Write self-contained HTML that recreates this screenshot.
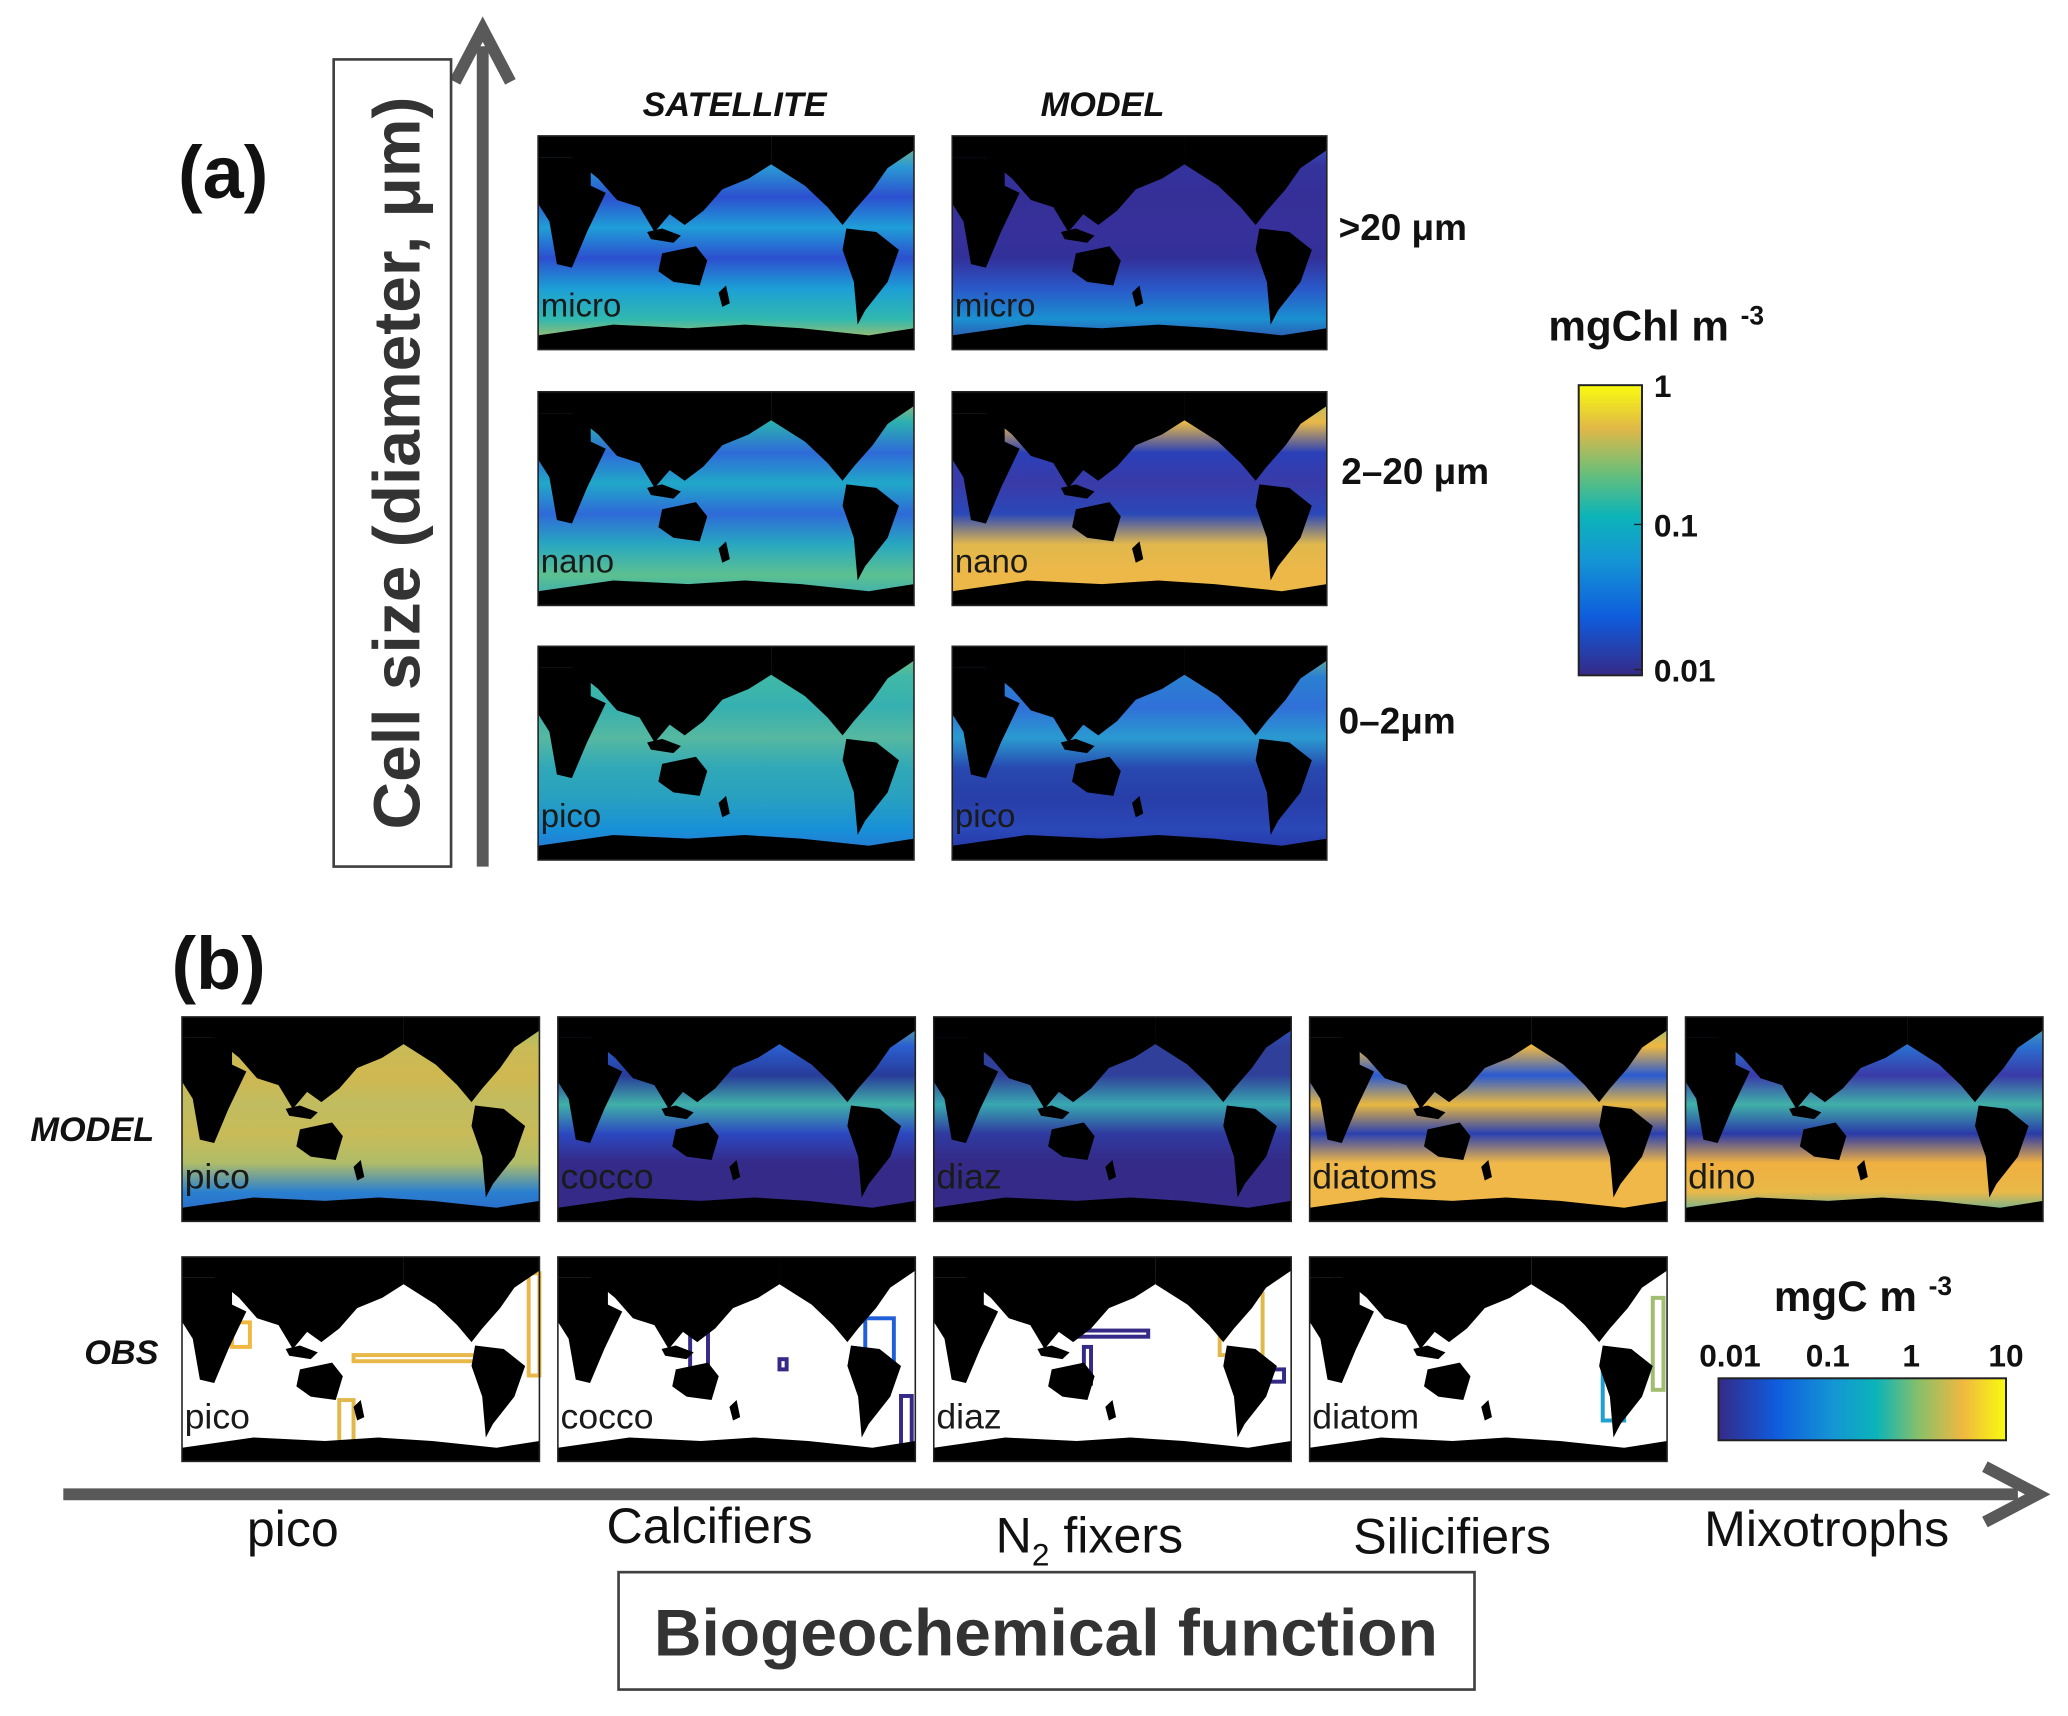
<!DOCTYPE html>
<html><head><meta charset="utf-8">
<style>
html,body{margin:0;padding:0;background:#fff;}
svg{display:block;font-family:"Liberation Sans","DejaVu Sans",sans-serif;}
</style></head>
<body>
<svg id="fig" width="2068" height="1716" viewBox="0 0 1568 1301" xmlns="http://www.w3.org/2000/svg">
<defs>
  <symbol id="land" viewBox="0 0 100 60" preserveAspectRatio="none">
    <polygon points="0,0 62,0 62,8 56,12 49,15 44,21 39,25 35,22 31,27 27,20 21,18 16,12 9,6 0,6" fill="#000"/>
    <polygon points="0,6 9,6 14,9 14,14 18,16 13,27 9,37 5,36 3,24 0,19" fill="#000"/>
    <polygon points="33,33 42,31 45,35 43,42 36,41 32,38" fill="#000"/>
    <polygon points="29,27 33,26 38,28 36,30 30,29" fill="#000"/>
    <polygon points="62,0 100,0 100,4 93,9 89,15 84,21 81,25 77,20 71,14 62,8" fill="#000"/>
    <polygon points="82,26 90,27 96,32 93,41 87,49 85,53 84,41 81,32" fill="#000"/>
    <polygon points="0,56 20,53 40,54 55,53 70,54 88,56 100,54 100,60 0,60" fill="#000"/>
    <polygon points="48,44 50,42 51,47 49,48" fill="#000"/>
  </symbol>
  <linearGradient id="cbA" x1="0" y1="1" x2="0" y2="0">
    <stop offset="0" stop-color="#352a87"/><stop offset="0.2" stop-color="#0f5cdd"/>
    <stop offset="0.4" stop-color="#1496d4"/><stop offset="0.55" stop-color="#0cb4b8"/>
    <stop offset="0.7" stop-color="#6cbf78"/><stop offset="0.85" stop-color="#e0b848"/>
    <stop offset="1" stop-color="#f9fb0e"/>
  </linearGradient>
  <linearGradient id="cbB" x1="0" y1="0" x2="1" y2="0">
    <stop offset="0" stop-color="#352a87"/><stop offset="0.2" stop-color="#0f5cdd"/>
    <stop offset="0.4" stop-color="#1496d4"/><stop offset="0.55" stop-color="#0cb4b8"/>
    <stop offset="0.7" stop-color="#8cbf68"/><stop offset="0.85" stop-color="#f0b840"/>
    <stop offset="1" stop-color="#f9fb0e"/>
  </linearGradient>
  <marker id="ah" markerWidth="6" markerHeight="6" refX="3" refY="3" orient="auto"></marker>
</defs>

<!-- panel a decorations -->
<g>
  <line x1="366" y1="657" x2="366" y2="35" stroke="#595959" stroke-width="9"/>
  <polyline points="345,62 366,22 387,62" fill="none" stroke="#595959" stroke-width="9" stroke-linejoin="miter"/>
</g>
<rect x="253" y="45" width="89" height="612" fill="#fff" stroke="#404040" stroke-width="2"/>
<text transform="translate(318,351) rotate(-90)" text-anchor="middle" font-size="50" font-weight="bold" fill="#333">Cell size (diameter, μm)</text>
<text x="135" y="150" font-size="56" font-weight="bold" fill="#111">(a)</text>
<text x="557" y="88" text-anchor="middle" font-size="26" font-weight="bold" font-style="italic" fill="#111">SATELLITE</text>
<text x="836" y="88" text-anchor="middle" font-size="26" font-weight="bold" font-style="italic" fill="#111">MODEL</text>
<text x="1015" y="182" font-size="28" font-weight="bold" fill="#111">&gt;20 μm</text>
<text x="1017" y="367" font-size="28" font-weight="bold" fill="#111">2–20 μm</text>
<text x="1015" y="556" font-size="28" font-weight="bold" fill="#111">0–2μm</text>

<!-- colorbar a -->
<text x="1174" y="258" font-size="32" font-weight="bold" fill="#111">mgChl m <tspan font-size="20" dy="-12">-3</tspan></text>
<rect x="1197" y="292" width="48" height="220" fill="url(#cbA)" stroke="#222" stroke-width="1.5"/>
<g id="cbAticks"></g>

<!-- panel b decorations -->
<text x="130" y="750" font-size="56" font-weight="bold" fill="#111">(b)</text>
<text x="70" y="865" text-anchor="middle" font-size="26" font-weight="bold" font-style="italic" fill="#111">MODEL</text>
<text x="92" y="1034" text-anchor="middle" font-size="26" font-weight="bold" font-style="italic" fill="#111">OBS</text>
<text x="1345" y="994" font-size="32" font-weight="bold" fill="#111">mgC m <tspan font-size="20" dy="-12">-3</tspan></text>
<rect x="1303" y="1045" width="218" height="47" fill="url(#cbB)" stroke="#222" stroke-width="1.5"/>
<g id="cbBticks"></g>

<g id="maps"></g>

<g>
  <line x1="48" y1="1133" x2="1530" y2="1133" stroke="#595959" stroke-width="9"/>
  <polyline points="1505,1112 1545,1133 1505,1154" fill="none" stroke="#595959" stroke-width="9"/>
</g>
<text x="222" y="1172" text-anchor="middle" font-size="38" fill="#111">pico</text>
<text x="538" y="1170" text-anchor="middle" font-size="38" fill="#111">Calcifiers</text>
<text x="826" y="1177" text-anchor="middle" font-size="38" fill="#111">N<tspan font-size="24" dy="10">2</tspan><tspan dy="-10"> fixers</tspan></text>
<text x="1101" y="1178" text-anchor="middle" font-size="38" fill="#111">Silicifiers</text>
<text x="1385" y="1172" text-anchor="middle" font-size="38" fill="#111">Mixotrophs</text>
<rect x="469" y="1192" width="649" height="89" fill="#fff" stroke="#404040" stroke-width="2"/>
<text x="793" y="1255" text-anchor="middle" font-size="50" font-weight="bold" fill="#333">Biogeochemical function</text>
</svg>

<script>
const NS = "http://www.w3.org/2000/svg";
const cbATickLabels = ["1","0.1","0.01"];
const cbATickFrac = [0, 0.48, 0.98];
const cbBTickLabels = ["0.01","0.1","1","10"];
const cbBTickFrac = [0.04, 0.38, 0.67, 1.0];

const mapNames = ["sat-micro","model-micro","sat-nano","model-nano","sat-pico","model-pico",
  "b-model-pico","b-model-cocco","b-model-diaz","b-model-diatoms","b-model-dino",
  "b-obs-pico","b-obs-cocco","b-obs-diaz","b-obs-diatom"];
const mapLabels = ["micro","micro","nano","nano","pico","pico","pico","cocco","diaz","diatoms","dino","pico","cocco","diaz","diatom"];
const mapX = [408,722,408,722,408,722,138,423,708,993,1278,138,423,708,993];
const mapY = [103,103,297,297,490,490,771,771,771,771,771,953,953,953,953];
const mapW = [285,284,285,284,285,284,271,271,271,271,271,271,271,271,271];
const mapH = [162,162,162,162,162,162,155,155,155,155,155,155,155,155,155];
const mapColors = [
  ["#9cc066","#2a9ad4","#2c50d0","#1f9ed8","#2c4fcf","#1c9fd6","#30b8b0","#e0c046"],
  ["#3a58c8","#34339c","#352f98","#37309a","#33309a","#2a58c8","#1a90d0","#3a3aa0"],
  ["#cabb58","#2ab0b0","#2f6ad8","#20a8c8","#2f6ad8","#28a8c0","#5cc090","#30a8c0"],
  ["#a0bd70","#e8b848","#2a40b8","#3a3aa8","#2a48b8","#e0b84c","#eeb848","#e8b848"],
  ["#90c070","#40b8a8","#36b0b0","#56b8a0","#30a8b8","#28a0c0","#1890d8","#2a70d0"],
  ["#80c080","#2a80d0","#3070d8","#2a9ad0","#2848b0","#283ea8","#2a48b8","#252fa0"],
  ["#90c070","#c8bb58","#d0b850","#c0bc60","#c8bb58","#b0bc68","#2a80d0","#2a60c8"],
  ["#70c090","#2a5fd0","#283c9a","#40b0a8","#2c48c0","#352a87","#352a87","#352a87"],
  ["#2a5dd0","#30409a","#30409a","#38a8b0","#2f3aa0","#352a87","#352a87","#352a87"],
  ["#70c090","#f0b840","#2a5ad0","#e8b840","#2a40b0","#f0b848","#f0b848","#f0b848"],
  ["#60b8a0","#2a70d0","#3a3aa8","#40b0a8","#2a3aa8","#f0b040","#e8b848","#2ab0c0"],
  ["#fff","#fff","#fff","#fff","#fff","#fff","#fff","#fff"],
  ["#fff","#fff","#fff","#fff","#fff","#fff","#fff","#fff"],
  ["#fff","#fff","#fff","#fff","#fff","#fff","#fff","#fff"],
  ["#fff","#fff","#fff","#fff","#fff","#fff","#fff","#fff"]
];
// observation patches: [mapIndex, fx, fy, fw, fh, color]
const obsIdx = [11,11,11,11,11,12,12,12,12,13,13,13,13,14,14,14,14];
const obsFx = [0.55,0.97,0.14,0.48,0.44,0.37,0.62,0.86,0.96,0.40,0.42,0.80,0.94,0.02,0.96,0.82,0.44];
const obsFy = [0.02,0.08,0.32,0.48,0.70,0.28,0.50,0.30,0.68,0.36,0.44,0.18,0.55,0.08,0.20,0.55,0.92];
const obsFw = [0.15,0.03,0.05,0.35,0.04,0.05,0.02,0.08,0.03,0.20,0.02,0.12,0.04,0.05,0.03,0.06,0.03];
const obsFh = [0.10,0.50,0.12,0.03,0.28,0.30,0.05,0.25,0.25,0.03,0.18,0.30,0.06,0.08,0.45,0.25,0.06];
const obsCol = ["#a0bd70","#e8b848","#f0b840","#e8b848","#e0b84c","#352a87","#352a87","#1f60d8","#352a87","#352a87","#352a87","#e0b84c","#352a87","#e0b848","#a0bd70","#1fa0d0","#f9fb0e"];

const svg = document.getElementById("fig");
const defs = svg.querySelector("defs");
const maps = document.getElementById("maps");

function el(tag, attrs, parent){
  const e = document.createElementNS(NS, tag);
  for (const k in attrs) e.setAttribute(k, attrs[k]);
  parent.appendChild(e);
  return e;
}

mapNames.forEach((name, i) => {
  const gid = "g" + i;
  const lg = el("linearGradient", {id: gid, x1: 0, y1: 0, x2: 0, y2: 1}, defs);
  const cols = mapColors[i];
  cols.forEach((c, j) => el("stop", {offset: j / (cols.length - 1), "stop-color": c}, lg));
  const g = el("g", {}, maps);
  
  
  const x = mapX[i], y = mapY[i], w = mapW[i], h = mapH[i];
  el("rect", {x: x, y: y, width: w, height: h, fill: "url(#" + gid + ")"}, g);
  obsIdx.forEach((mi, k) => {
    if (mi !== i) return;
    const r = el("rect", {x: x + obsFx[k] * w, y: y + obsFy[k] * h, width: obsFw[k] * w, height: obsFh[k] * h, fill: "none", stroke: obsCol[k], "stroke-width": 3}, g);
    
    
  });
  el("use", {href: "#land", x: x, y: y, width: w, height: h}, g);
  el("rect", {x: x, y: y, width: w, height: h, fill: "none", stroke: "#222", "stroke-width": 1.2}, g);
  const t = el("text", {x: x + 2, y: y + h - 25, "font-size": i < 6 ? 25 : 27, fill: "#1a1a1a"}, g);
  t.textContent = mapLabels[i];
  
  
});

const ga = document.getElementById("cbAticks");
cbATickLabels.forEach((lab, i) => {
  const y = 292 + cbATickFrac[i] * 220;
  el("line", {x1: 1239, x2: 1245, y1: y, y2: y, stroke: "#222"}, ga);
  const t = el("text", {x: 1254, y: y + 9, "font-size": 24, "font-weight": "bold", fill: "#111"}, ga);
  t.textContent = lab;
  
  
});
const gb = document.getElementById("cbBticks");
cbBTickLabels.forEach((lab, i) => {
  const x = 1303 + cbBTickFrac[i] * 218;
  const t = el("text", {x: x, y: 1036, "text-anchor": "middle", "font-size": 24, "font-weight": "bold", fill: "#111"}, gb);
  t.textContent = lab;
  
  
});
</script>
</body></html>
